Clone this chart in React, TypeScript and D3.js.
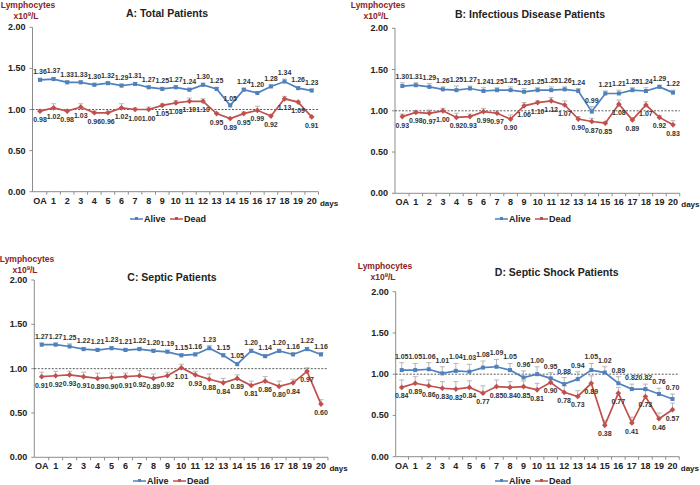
import React from "react";
import * as d3 from "d3";

const days = ["OA", "1", "2", "3", "4", "5", "6", "7", "8", "9", "10", "11", "12", "13", "14", "15", "16", "17", "18", "19", "20"];
const yTicks = [0, 0.5, 1.0, 1.5, 2.0];

const aAlive = [1.36, 1.37, 1.33, 1.33, 1.30, 1.32, 1.29, 1.31, 1.27, 1.25, 1.27, 1.24, 1.30, 1.25, 1.05, 1.24, 1.20, 1.28, 1.34, 1.26, 1.23];
const aDead = [0.98, 1.02, 0.98, 1.03, 0.96, 0.96, 1.02, 1.00, 1.00, 1.05, 1.08, 1.10, 1.10, 0.95, 0.89, 0.95, 0.99, 0.92, 1.13, 1.09, 0.91];
const aAliveErr = [0.02, 0.02, 0.02, 0.02, 0.02, 0.02, 0.02, 0.02, 0.02, 0.02, 0.02, 0.02, 0.02, 0.02, 0.01, 0.02, 0.02, 0.02, 0.03, 0.02, 0.02];
const aDeadErr = [0.02, 0.05, 0.02, 0.04, 0.02, 0.02, 0.05, 0.02, 0.03, 0.02, 0.03, 0.04, 0.03, 0.01, 0.01, 0.02, 0.05, 0.01, 0.03, 0.01, 0.01];

const bAlive = [1.30, 1.31, 1.29, 1.26, 1.25, 1.27, 1.24, 1.25, 1.25, 1.23, 1.25, 1.25, 1.26, 1.24, 0.99, 1.21, 1.21, 1.25, 1.24, 1.29, 1.22];
const bDead = [0.93, 0.98, 0.97, 1.00, 0.92, 0.93, 0.99, 0.97, 0.90, 1.06, 1.10, 1.12, 1.07, 0.90, 0.87, 0.85, 1.08, 0.89, 1.07, 0.92, 0.83];
const bAliveErr = [0.04, 0.03, 0.04, 0.03, 0.05, 0.03, 0.04, 0.03, 0.04, 0.04, 0.03, 0.04, 0.03, 0.03, 0.06, 0.03, 0.04, 0.03, 0.04, 0.02, 0.03];
const bDeadErr = [0.03, 0.02, 0.04, 0.03, 0.05, 0.03, 0.04, 0.03, 0.05, 0.04, 0.02, 0.04, 0.05, 0.03, 0.04, 0.02, 0.05, 0.02, 0.04, 0.02, 0.05];

const cAlive = [1.27, 1.27, 1.25, 1.22, 1.21, 1.23, 1.21, 1.22, 1.20, 1.19, 1.15, 1.16, 1.23, 1.15, 1.05, 1.20, 1.14, 1.20, 1.16, 1.22, 1.16];
const cDead = [0.91, 0.92, 0.93, 0.91, 0.89, 0.90, 0.91, 0.92, 0.89, 0.92, 1.01, 0.93, 0.88, 0.84, 0.89, 0.81, 0.86, 0.80, 0.84, 0.97, 0.60];
const cAliveErr = [0.02, 0.02, 0.03, 0.02, 0.02, 0.02, 0.02, 0.02, 0.02, 0.02, 0.02, 0.02, 0.03, 0.02, 0.02, 0.02, 0.02, 0.02, 0.02, 0.02, 0.02];
const cDeadErr = [0.05, 0.05, 0.04, 0.05, 0.06, 0.05, 0.04, 0.06, 0.05, 0.04, 0.04, 0.04, 0.06, 0.05, 0.04, 0.05, 0.05, 0.06, 0.04, 0.04, 0.05];

const dAlive = [1.05, 1.05, 1.06, 1.01, 1.04, 1.03, 1.08, 1.09, 1.05, 0.96, 1.00, 0.95, 0.88, 0.94, 1.05, 1.02, 0.89, 0.82, 0.82, 0.76, 0.70];
const dDead = [0.84, 0.89, 0.86, 0.83, 0.82, 0.84, 0.77, 0.85, 0.84, 0.85, 0.81, 0.90, 0.78, 0.73, 0.89, 0.38, 0.77, 0.41, 0.73, 0.46, 0.57];
const dAliveErr = [0.09, 0.08, 0.08, 0.08, 0.09, 0.09, 0.08, 0.09, 0.08, 0.08, 0.09, 0.07, 0.08, 0.09, 0.08, 0.07, 0.08, 0.06, 0.06, 0.07, 0.06];
const dDeadErr = [0.09, 0.08, 0.07, 0.08, 0.09, 0.08, 0.09, 0.08, 0.07, 0.07, 0.08, 0.06, 0.08, 0.07, 0.09, 0.06, 0.07, 0.07, 0.07, 0.07, 0.08];

const BLUE = "#4F81BD";
const RED = "#C0504D";
const FONT = "Liberation Sans, Arial, sans-serif";

type PanelProps = {
  title: string;
  alive: number[];
  dead: number[];
  aliveErr: number[];
  deadErr: number[];
  axisX: number;
  firstX: number;
  lastX: number;
  yTop: number;
  yBot: number;
  titleX: number;
  titleY: number;
  unitX: number;
  unitY: number;
  legendY: number;
  legendX: number;
};

function Panel(p: PanelProps) {
  const x = d3.scalePoint<string>().domain(days).range([p.firstX, p.lastX]);
  const step = x.step();
  const xEnd = p.lastX + step / 2;
  const y = d3.scaleLinear().domain([0, 2]).range([p.yBot, p.yTop]);
  const line = d3
    .line<number>()
    .x((_, i) => x(days[i]) as number)
    .y((v) => y(v));
  const axisColor = "#8c8c8c";

  const errBars = (vals: number[], errs: number[], key: string) =>
    vals.map((v, i) => {
      const cx = x(days[i]) as number;
      const y1 = y(v);
      const y2 = y(v + errs[i]);
      return (
        <g key={key + i} stroke="#a6a6a6" strokeWidth={0.8}>
          <line x1={cx} x2={cx} y1={y1} y2={y2} />
          <line x1={cx - 2.5} x2={cx + 2.5} y1={y2} y2={y2} />
        </g>
      );
    });

  return (
    <g fontFamily={FONT}>
      <text x={p.unitX} y={p.unitY} textAnchor="middle" fontSize={8.5} fontWeight="bold" fill="#8B2323">
        Lymphocytes
      </text>
      <text x={p.unitX - 2} y={p.unitY + 11} textAnchor="middle" fontSize={8.5} fontWeight="bold" fill="#8B2323">
        x10<tspan fontSize={6} dy={-3}>9</tspan>
        <tspan dy={3}>/L</tspan>
      </text>
      <text x={p.titleX} y={p.titleY} textAnchor="middle" fontSize={10.5} fontWeight="bold" fill="#222">
        {p.title}
      </text>

      <line x1={p.axisX} x2={p.axisX} y1={p.yTop} y2={p.yBot} stroke={axisColor} strokeWidth={1} />
      {yTicks.map((t) => (
        <g key={"yt" + t}>
          <line x1={p.axisX - 3} x2={p.axisX} y1={y(t)} y2={y(t)} stroke={axisColor} />
          <text x={p.axisX - 7} y={y(t) + 3} textAnchor="end" fontSize={9} fontWeight="bold" fill="#222">
            {t.toFixed(2)}
          </text>
        </g>
      ))}
      <line x1={p.axisX} x2={xEnd} y1={p.yBot} y2={p.yBot} stroke={axisColor} strokeWidth={1} />
      {days.map((d) => (
        <g key={"xt" + d}>
          <line
            x1={(x(d) as number) + step / 2}
            x2={(x(d) as number) + step / 2}
            y1={p.yBot}
            y2={p.yBot + 3}
            stroke={axisColor}
          />
          <text x={x(d) as number} y={p.yBot + 12} textAnchor="middle" fontSize={9} fontWeight="bold" fill="#222">
            {d}
          </text>
        </g>
      ))}
      <text x={xEnd + 1.5} y={p.yBot + 14} fontSize={8} fontWeight="bold" fill="#222">
        days
      </text>

      <line x1={p.axisX} x2={xEnd} y1={y(1)} y2={y(1)} stroke="#333" strokeWidth={0.8} strokeDasharray="2,1.5" />

      {errBars(p.alive, p.aliveErr, "ea")}
      {errBars(p.dead, p.deadErr, "ed")}

      <path d={line(p.alive) || ""} fill="none" stroke={BLUE} strokeWidth={1.7} />
      <path d={line(p.dead) || ""} fill="none" stroke={RED} strokeWidth={1.7} />
      {p.alive.map((v, i) => (
        <rect key={"ma" + i} x={(x(days[i]) as number) - 2} y={y(v) - 2} width={4} height={4} fill={BLUE} />
      ))}
      {p.dead.map((v, i) => (
        <rect
          key={"md" + i}
          x={(x(days[i]) as number) - 2}
          y={y(v) - 2}
          width={4}
          height={4}
          fill={RED}
          transform={`rotate(45 ${x(days[i])} ${y(v)})`}
        />
      ))}

      {p.alive.map((v, i) => (
        <text
          key={"la" + i}
          x={x(days[i]) as number}
          y={y(v + p.aliveErr[i]) - 4}
          textAnchor="middle"
          fontSize={7}
          fontWeight="bold"
          fill="#333"
        >
          {v.toFixed(2)}
        </text>
      ))}
      {p.dead.map((v, i) => (
        <text
          key={"ld" + i}
          x={x(days[i]) as number}
          y={y(v) + 11}
          textAnchor="middle"
          fontSize={7}
          fontWeight="bold"
          fill="#333"
        >
          {v.toFixed(2)}
        </text>
      ))}

      <g fontSize={9} fontWeight="bold" fill="#222">
        <line x1={p.legendX} x2={p.legendX + 13} y1={p.legendY - 3} y2={p.legendY - 3} stroke={BLUE} strokeWidth={1.5} />
        <rect x={p.legendX + 5} y={p.legendY - 5} width={3} height={3} fill={BLUE} />
        <text x={p.legendX + 14} y={p.legendY}>Alive</text>
        <line x1={p.legendX + 40} x2={p.legendX + 53} y1={p.legendY - 3} y2={p.legendY - 3} stroke={RED} strokeWidth={1.5} />
        <rect x={p.legendX + 45} y={p.legendY - 5} width={3} height={3} fill={RED} />
        <text x={p.legendX + 54} y={p.legendY}>Dead</text>
      </g>
    </g>
  );
}

export default function App() {
  return (
    <svg width={700} height={485} style={{ position: "absolute", left: 0, top: 0, background: "#fff" }}>
      <Panel
        title="A: Total Patients"
        alive={aAlive}
        dead={aDead}
        aliveErr={aAliveErr}
        deadErr={aDeadErr}
        axisX={32.5}
        firstX={40}
        lastX={311.7}
        yTop={27.3}
        yBot={191.7}
        titleX={167}
        titleY={17}
        unitX={28}
        unitY={8}
        legendY={222}
        legendX={130}
      />
      <Panel
        title="B: Infectious Disease Patients"
        alive={bAlive}
        dead={bDead}
        aliveErr={bAliveErr}
        deadErr={bDeadErr}
        axisX={395}
        firstX={402.3}
        lastX={673}
        yTop={28.3}
        yBot={193.3}
        titleX={530}
        titleY={18}
        unitX={378}
        unitY={8}
        legendY={222}
        legendX={495}
      />
      <Panel
        title="C: Septic Patients"
        alive={cAlive}
        dead={cDead}
        aliveErr={cAliveErr}
        deadErr={cDeadErr}
        axisX={34.3}
        firstX={41.7}
        lastX={321}
        yTop={280}
        yBot={457.3}
        titleX={172}
        titleY={281}
        unitX={27}
        unitY={262}
        legendY={484}
        legendX={133}
      />
      <Panel
        title="D: Septic Shock Patients"
        alive={dAlive}
        dead={dDead}
        aliveErr={dAliveErr}
        deadErr={dDeadErr}
        axisX={395.7}
        firstX={401.7}
        lastX={672.5}
        yTop={291.7}
        yBot={456.7}
        titleX={556.7}
        titleY={276}
        unitX={385}
        unitY={269}
        legendY={484}
        legendX={495}
      />
    </svg>
  );
}
